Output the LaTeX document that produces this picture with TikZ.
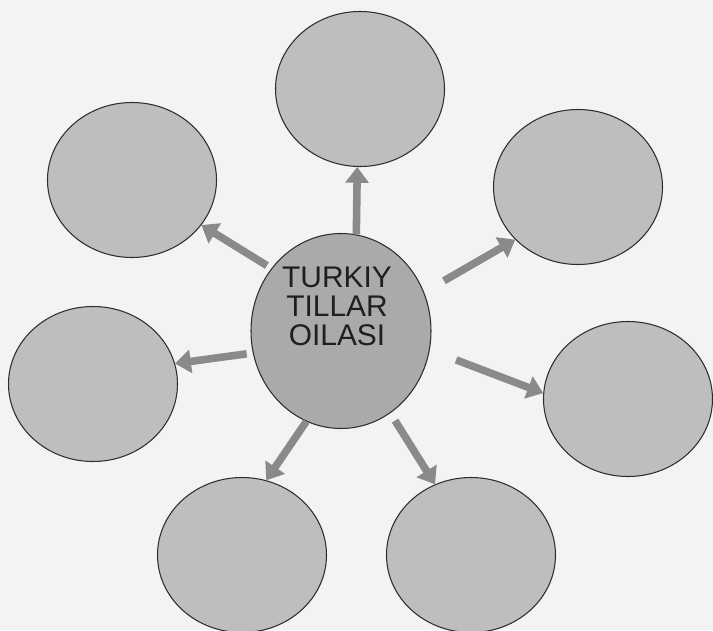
\documentclass[tikz,border=0pt]{standalone}
\usepackage{fontspec}
\setmainfont{Liberation Sans}
\usepackage{xcolor}
\usepackage{tikz}
\usetikzlibrary{arrows.meta,shapes.geometric}

\definecolor{pagebg}{RGB}{243,243,243}
\definecolor{bubblefill}{RGB}{190,190,190}
\definecolor{hubfill}{RGB}{170,170,170}
\definecolor{rimcol}{RGB}{45,45,45}
\definecolor{arrowcol}{RGB}{138,138,138}

\begin{document}
\begin{tikzpicture}[
            bubble/.style={ellipse,draw=rimcol,line width=0.6pt,fill=bubblefill,
                minimum width=3.38cm,minimum height=3.1cm,inner sep=0pt},
            hub/.style={ellipse,draw=rimcol,line width=0.6pt,fill=hubfill,
                minimum width=3.6cm,minimum height=3.9cm,inner sep=0pt},
            arc/.style={
                draw=arrowcol,
                line width=4.3pt,
                -{Triangle[length=9pt,width=13pt]}
            },
            hubtext/.style={font=\fontsize{17}{16.5}\selectfont,align=center,text=black!88}
        ]

            % Page
            \fill[pagebg] (0,0) rectangle (14.26,12.6);
            \useasboundingbox (0,0) rectangle (14.26,12.6);

            % Centre
            \node[hub] (C) at (6.82,5.98) {};
            \node[hubtext] (Ctext) at ([xshift=-0.08cm,yshift=0.5cm]C.center)
                {TURKIY\\TILLAR\\OILASI};

            % Upper row
            \node[bubble] (UL) at (2.64,9.00) {};
            \node[bubble] (T) at (7.20,10.82) {};
            \node[bubble] (UR) at (11.56,8.86) {};

            % Middle row
            \node[bubble] (L) at (1.86,4.92) {};
            \node[bubble] (R) at (12.56,4.62) {};

            % Lower row
            \node[bubble] (BL) at (4.84,1.50) {};
            \node[bubble] (BR) at (9.42,1.50) {};

            % Arrows out of the centre
            \draw[arc] (C.81) -- (T.-92);
            \draw[arc,shorten <=3pt] (C.138) -- (UL.-33);
            \draw[arc,shorten <=13pt] (C.25) -- (UR.-140);
            \draw[arc,shorten <=3.5pt] (C.194) -- (L.14);
            \draw[arc,shorten <=16pt] (C.-12) -- (R.176);
            \draw[arc] (C.249) -- (BL.72);
            \draw[arc,shorten <=5pt] (C.-59) -- (BR.117);
        \end{tikzpicture}
\end{document}
